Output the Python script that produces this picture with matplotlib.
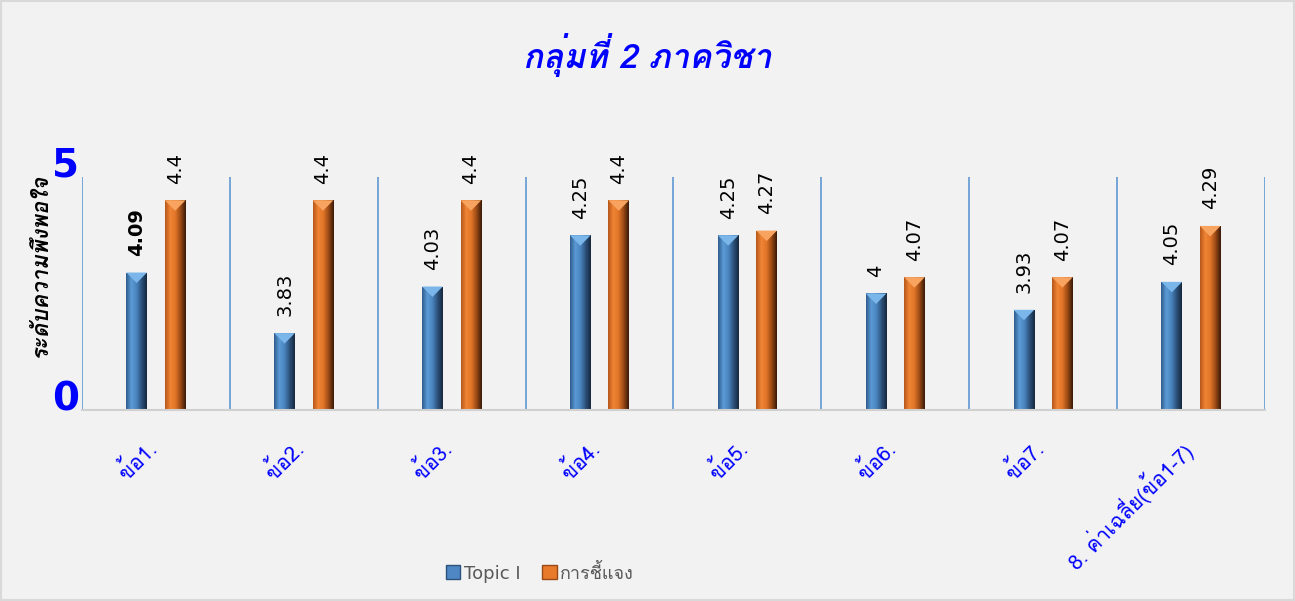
import matplotlib
matplotlib.use("Agg")
import matplotlib.pyplot as plt
import numpy as np
from matplotlib.colors import LinearSegmentedColormap
from matplotlib.patches import Patch, Polygon, Rectangle
from matplotlib.transforms import ScaledTranslation

THAI = ["Loma", "Sarabun", "DejaVu Sans"]
plt.rcParams["font.family"] = THAI

# data
categories = ["ข้อ1.", "ข้อ2.", "ข้อ3.", "ข้อ4.", "ข้อ5.", "ข้อ6.", "ข้อ7.",
              "8. ค่าเฉลี่ย(ข้อ1-7)"]
topic = [4.09, 3.83, 4.03, 4.25, 4.25, 4.00, 3.93, 4.05]
explain = [4.4, 4.4, 4.4, 4.4, 4.27, 4.07, 4.07, 4.29]
topic_labels = ["4.09", "3.83", "4.03", "4.25", "4.25", "4", "3.93", "4.05"]
explain_labels = ["4.4", "4.4", "4.4", "4.4", "4.27", "4.07", "4.07", "4.29"]
series_names = ["Topic I", "การชี้แจง"]
ymin, ymax = 3.5, 4.5
ytick_labels = ["0", "5"]

bg = "#F2F2F2"
blue_cmap = LinearSegmentedColormap.from_list(
    "b", ["#2f5d8f", "#5b9bd5", "#4a84bf", "#2c517a", "#16283d"])
orange_cmap = LinearSegmentedColormap.from_list(
    "o", ["#b8581a", "#f08535", "#e07428", "#9a4a16", "#3a1a08"])

fig = plt.figure(figsize=(12.95, 6.01), dpi=100, facecolor=bg)
ax = fig.add_axes([0.0633, 0.3178, 0.9135, 0.3877])
ax.set_facecolor(bg)

x = np.arange(len(categories))
w = 0.14
off = 0.13


def bevel(rect, cmap, tip):
    bx, by = rect.get_x(), rect.get_y()
    bw, bh = rect.get_width(), rect.get_height()
    grad = np.linspace(0, 1, 64).reshape(1, -1)
    im = ax.imshow(grad, extent=(bx, bx + bw, by, by + bh), cmap=cmap,
                   aspect="auto", origin="lower", zorder=2)
    im.set_clip_path(rect)
    d = 0.045
    top = by + bh
    tri = Polygon([(bx, top), (bx + bw, top), (bx + bw / 2, top - d)],
                  closed=True, facecolor=tip, edgecolor="none", zorder=3)
    ax.add_patch(tri)


bars1 = ax.bar(x - off, np.array(topic) - ymin, w, bottom=ymin, color="#4f87c4", zorder=1)
bars2 = ax.bar(x + off, np.array(explain) - ymin, w, bottom=ymin, color="#e87a2c", zorder=1)
for r in bars1:
    bevel(r, blue_cmap, "#7ab6ea")
for r in bars2:
    bevel(r, orange_cmap, "#f8a460")

for i, r in enumerate(bars1):
    ax.annotate(topic_labels[i], (r.get_x() + r.get_width() / 2, topic[i]),
                xytext=(0, 12), textcoords="offset points", rotation=90,
                ha="center", va="bottom", fontsize=14, color="black",
                family="DejaVu Sans", fontweight="bold" if i == 0 else "normal")
for i, r in enumerate(bars2):
    ax.annotate(explain_labels[i], (r.get_x() + r.get_width() / 2, explain[i]),
                xytext=(0, 12), textcoords="offset points", rotation=90,
                ha="center", va="bottom", fontsize=14, color="black",
                family="DejaVu Sans")

# category separators
for k in range(len(categories) + 1):
    ax.axvline(k - 0.5, color="#6a9fd4", lw=1.3, zorder=0)

ax.set_xlim(-0.5, len(categories) - 0.5)
ax.set_ylim(ymin, ymax)
for s in ["top", "right", "left"]:
    ax.spines[s].set_visible(False)
ax.spines["bottom"].set_color("#d0d0d0")
ax.spines["bottom"].set_linewidth(1.5)

ax.set_yticks([ymin, ymax])
ax.set_yticklabels(ytick_labels, fontsize=28, fontweight="bold", color="#0000ff",
                   family="DejaVu Sans", va="baseline")
ax.tick_params(axis="y", length=0, pad=2)

ax.set_xticks(x)
ax.set_xticklabels(categories, rotation=45, ha="right", va="top",
                   rotation_mode="anchor", fontsize=15, color="#0000ff")
ax.tick_params(axis="x", length=0, pad=19)
shift = ScaledTranslation(-12 / 100, 0, fig.dpi_scale_trans)
for lbl in ax.get_xticklabels():
    lbl.set_transform(lbl.get_transform() + shift)

fig.text(0.5, 1 - 55 / 601, "กลุ่มที่ 2 ภาควิชา", ha="center", va="center",
         fontsize=24, color="#0000ff", fontweight="bold", style="italic")
fig.text(40 / 1295, 1 - 266 / 601, "ระดับความพึงพอใจ", rotation=90,
         ha="center", va="center", fontsize=16, fontweight="bold",
         style="italic", color="black")

handles = [Patch(facecolor="#4f87c4", edgecolor="#2c517a"),
           Patch(facecolor="#e87a2c", edgecolor="#9a4a16")]
leg = fig.legend(handles, series_names, loc="center", bbox_to_anchor=(540 / 1295, 1 - 573 / 601),
                 ncol=2, frameon=False, handlelength=0.8, handleheight=0.8,
                 handletextpad=0.2, columnspacing=1.2, labelcolor="#595959",
                 prop={"family": ["DejaVu Sans", "Loma"], "size": 13})

fig.patches.append(Rectangle((0.001, 0.001), 0.998, 0.998, transform=fig.transFigure,
                             fill=False, edgecolor="#d9d9d9", lw=1.5))

fig.savefig("out.png", dpi=100, facecolor=bg)
